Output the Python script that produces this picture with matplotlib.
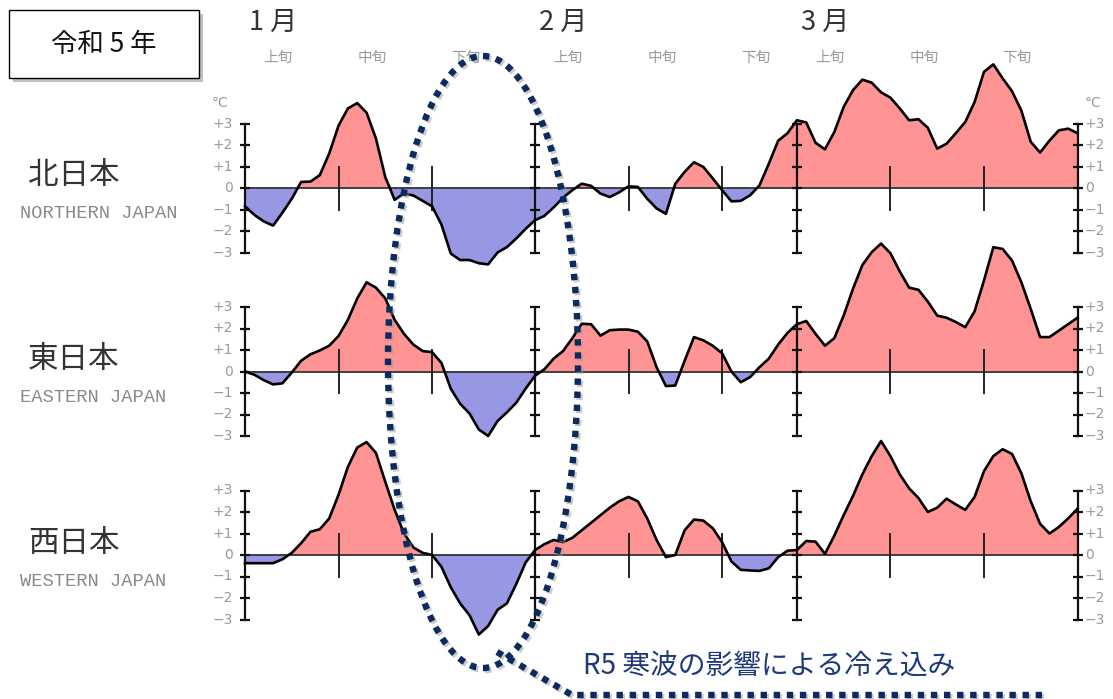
import numpy as np
import matplotlib
matplotlib.use("Agg")
import matplotlib.pyplot as plt
import matplotlib.patheffects as pe
from matplotlib.patches import Ellipse, Rectangle

plt.rcParams['font.family'] = ['Noto Sans CJK JP', 'DejaVu Sans']

# daily temperature anomaly (deg C), 1 Jan .. 31 Mar
days = np.arange(90)
north = [-0.85, -1.25, -1.55, -1.75, -1.15, -0.5, 0.28, 0.3, 0.6, 1.6,
         2.9, 3.7, 3.95, 3.5, 2.3, 0.5, -0.55, -0.25, -0.35, -0.6,
         -0.85, -1.7, -3.05, -3.35, -3.35, -3.5, -3.55, -3.0, -2.75, -2.35,
         -1.9, -1.5, -1.3, -0.9, -0.45, -0.1, 0.2, 0.1, -0.26, -0.42,
         -0.2, 0.08, 0.05, -0.5, -0.95, -1.2, 0.2, 0.75, 1.2, 0.98,
         0.45, -0.1, -0.62, -0.6, -0.34, 0.12, 1.13, 2.2, 2.55, 3.15,
         3.05, 2.1, 1.8, 2.6, 3.77, 4.55, 5.04, 4.9, 4.45, 4.2,
         3.7, 3.15, 3.2, 2.8, 1.83, 2.06, 2.55, 3.07, 4.0, 5.4,
         5.75, 5.1, 4.5, 3.6, 2.15, 1.65, 2.2, 2.68, 2.76, 2.55]
east = [0.0, -0.15, -0.4, -0.6, -0.55, -0.05, 0.5, 0.8, 0.98, 1.2,
        1.65, 2.4, 3.4, 4.15, 3.9, 3.4, 2.4, 1.75, 1.25, 0.95,
        0.9, 0.4, -0.8, -1.5, -1.95, -2.7, -3.0, -2.3, -1.9, -1.45,
        -0.8, -0.2, 0.1, 0.6, 0.95, 1.55, 2.22, 2.2, 1.67, 1.92,
        1.95, 1.95, 1.85, 1.4, 0.2, -0.68, -0.65, 0.5, 1.6, 1.45,
        1.2, 0.85, 0.0, -0.5, -0.26, 0.2, 0.6, 1.25, 1.8, 2.2,
        2.35, 1.75, 1.2, 1.55, 2.6, 3.85, 4.95, 5.55, 5.95, 5.5,
        4.65, 3.9, 3.8, 3.25, 2.6, 2.5, 2.3, 2.06, 2.8, 4.23,
        5.78, 5.7, 5.16, 4.15, 2.91, 1.6, 1.6, 1.9, 2.2, 2.5]
west = [-0.38, -0.38, -0.38, -0.38, -0.2, 0.1, 0.55, 1.08, 1.2, 1.7,
        2.8, 4.1, 5.0, 5.25, 4.75, 3.4, 2.1, 1.0, 0.35, 0.1,
        0.0, -0.55, -1.5, -2.25, -2.8, -3.7, -3.3, -2.55, -2.25, -1.35,
        -0.35, 0.23, 0.5, 0.7, 0.6, 0.8, 1.15, 1.5, 1.85, 2.2,
        2.5, 2.7, 2.5, 1.7, 0.7, -0.1, 0.0, 1.15, 1.65, 1.6,
        1.25, 0.6, -0.3, -0.69, -0.72, -0.74, -0.62, -0.1, 0.2, 0.23,
        0.65, 0.62, 0.05, 0.9, 1.85, 2.75, 3.75, 4.6, 5.3, 4.6,
        3.75, 3.1, 2.65, 2.0, 2.2, 2.62, 2.35, 2.1, 2.7, 3.9,
        4.6, 4.92, 4.7, 3.8, 2.5, 1.45, 1.0, 1.3, 1.7, 2.15]

regions_jp = ['北日本', '東日本', '西日本']
regions_en = ['NORTHERN JAPAN', 'EASTERN JAPAN', 'WESTERN JAPAN']
month_starts = [0, 31, 59]
month_labels = ['1 月', '2 月', '3 月']
dekad_starts = [0, 10, 20, 31, 41, 51, 59, 69, 79]
dekad_labels = ['上旬', '中旬', '下旬'] * 3
y_ticks = [3, 2, 1, 0, -1, -2, -3]
y_tick_labels = ['+3', '+2', '+1', '0', '−1', '−2', '−3']

RED = '#ff9494'
BLUE = '#9797e4'
GRAY = '#9a9a9a'
NAVY = '#0b2a5e'

W, H = 1113, 699
X0, X1 = 245, 1077.5          # px of 1 Jan and 31 Mar
UNIT = 21.5                   # px per deg C
ZEROS = [188, 371.5, 555]     # px of each panel's zero line
YTOP, YBOT = 6.5, -4.0


def px_box(left, top, width, height):
    return [left / W, 1 - (top + height) / H, width / W, height / H]


fig = plt.figure(figsize=(W / 100, H / 100), dpi=100)

axes = []
for vals, zero_px in zip([north, east, west], ZEROS):
    vals = np.array(vals)
    ax = fig.add_axes(px_box(X0, zero_px - YTOP * UNIT, X1 - X0, (YTOP - YBOT) * UNIT))
    ax.set_xlim(0, days[-1])
    ax.set_ylim(YBOT, YTOP)
    ax.axis('off')
    ax.patch.set_alpha(0)

    ax.fill_between(days, vals, 0, where=vals >= 0, interpolate=True,
                    color=RED, lw=0, clip_on=False)
    ax.fill_between(days, vals, 0, where=vals <= 0, interpolate=True,
                    color=BLUE, lw=0, clip_on=False)
    ax.plot([0, days[-1]], [0, 0], color='#333333', lw=1.3, clip_on=False)

    # month axes with unit ticks
    for d in month_starts + [days[-1]]:
        ax.plot([d, d], [-3, 3], color='#111111', lw=1.6, clip_on=False)
        ax.plot([d] * len(y_ticks), y_ticks, ls='none', marker='_', ms=7,
                mew=1.6, color='#111111', clip_on=False)
    # dekad boundaries
    for d in dekad_starts:
        if d in month_starts:
            continue
        ax.plot([d, d], [-1, 1], color='#222222', lw=1.4, clip_on=False)

    ax.plot(days, vals, color='black', lw=1.9, solid_joinstyle='round', clip_on=False)

    for k, lab in zip(y_ticks, y_tick_labels):
        ax.text(-1.3, k, lab, ha='right', va='center', fontsize=10,
                color=GRAY, family='DejaVu Sans')
        ax.text(days[-1] + 0.8, k, lab, ha='left', va='center', fontsize=10,
                color=GRAY, family='DejaVu Sans')
    axes.append(ax)

top = axes[0]
top.text(-2.7, 3.95, '°C', ha='center', va='center', fontsize=10, color=GRAY,
         family='DejaVu Sans')
top.text(days[-1] + 1.7, 3.95, '°C', ha='center', va='center', fontsize=10,
         color=GRAY, family='DejaVu Sans')
for d, lab in zip(month_starts, month_labels):
    top.text(d + 0.4, 7.7, lab, ha='left', va='center', fontsize=19.5,
             color='#333333')
for d, lab in zip(dekad_starts, dekad_labels):
    top.text(d + 2.0, 6.05, lab, ha='left', va='center', fontsize=10.5,
             color=GRAY)

# overlay in pixel coordinates for labels and annotations
ov = fig.add_axes([0, 0, 1, 1])
ov.set_xlim(0, W)
ov.set_ylim(H, 0)
ov.axis('off')
ov.patch.set_alpha(0)

for zero_px, jp, en in zip(ZEROS, regions_jp, regions_en):
    ov.text(28, zero_px - 12, jp, ha='left', va='center', fontsize=22,
            color='#333333')
    ov.text(20, zero_px + 26, en, ha='left', va='center', fontsize=13.5,
            color='#8a8a8a', family='Liberation Mono')

box = Rectangle((9, 10), 190, 68, fc='white', ec='black', lw=1.0,
                path_effects=[pe.SimplePatchShadow(offset=(3, -3), alpha=0.35),
                              pe.Normal()])
ov.add_patch(box)
ov.text(104, 44, '令和 5 年', ha='center', va='center', fontsize=19, color='#111111')

shadow = [pe.SimpleLineShadow(offset=(1.5, -1.5), shadow_color='#999999', alpha=0.5),
          pe.Normal()]
dash = (0, (1.0, 1.05))
ell = Ellipse((483, 362), 190, 612, fill=False, ec=NAVY, lw=4.6,
              ls=dash, capstyle='butt', path_effects=shadow)
ov.add_patch(ell)
ov.plot([497, 572, 1045], [652, 695, 695], color=NAVY, lw=4.6, ls=dash,
        dash_capstyle='butt', path_effects=shadow)
ov.text(583, 667, 'R5 寒波の影響による冷え込み', ha='left', va='center',
        fontsize=20, color='#1f3a7a')

fig.savefig('out.png', dpi=100)
